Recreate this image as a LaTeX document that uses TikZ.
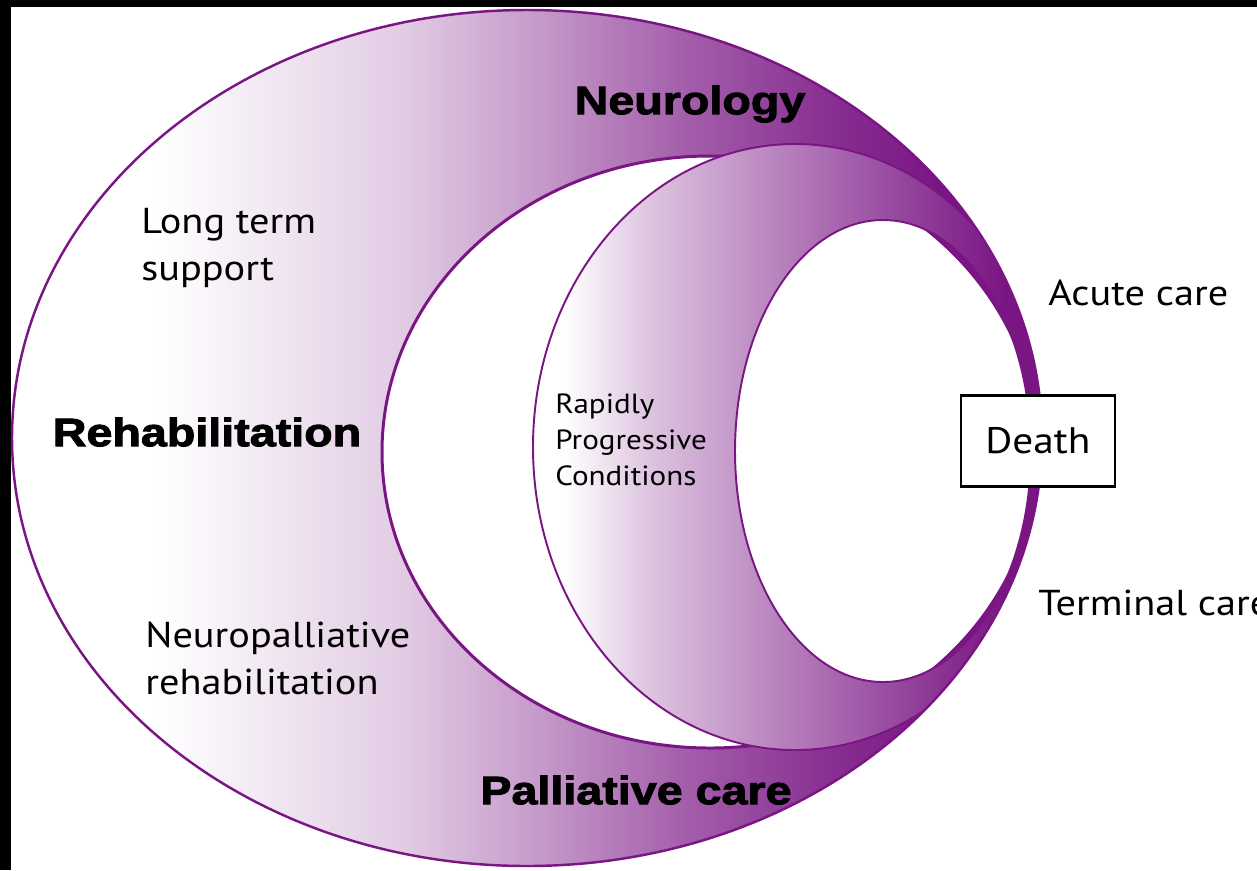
\documentclass[tikz,border=0pt]{standalone}
\usepackage{fontspec}
\setmainfont{PT Sans}[FakeStretch=1.12]
\newfontfamily\heavyfont[FakeBold=2.5, FakeStretch=1.18]{Liberation Sans Bold}
\usepackage{tikz}
\usetikzlibrary{positioning}

\definecolor{purp}{RGB}{122,22,132}
\pgfdeclarehorizontalshading{outershade}{100bp}{color(0bp)=(white); color(32bp)=(white); color(44bp)=(purp!22); color(51bp)=(purp!45); color(58bp)=(purp!70); color(65bp)=(purp!90); color(70bp)=(purp); color(100bp)=(purp)}
\pgfdeclarehorizontalshading{innershade}{100bp}{color(0bp)=(white); color(28bp)=(white); color(36bp)=(purp!25); color(46bp)=(purp!48); color(55bp)=(purp!68); color(64bp)=(purp!88); color(70bp)=(purp); color(100bp)=(purp)}

\begin{document}
\begin{tikzpicture}[x=0.02cm, y=-0.02cm,
  rim/.style={draw=purp, line width=1.1pt},
  big/.style={font=\heavyfont\fontsize{22.5}{26}\selectfont, inner sep=0pt},
  txt/.style={font=\fontsize{20.5}{26.7}\selectfont, align=left, anchor=west, inner sep=0pt},
  small/.style={font=\fontsize{15.8}{20.5}\selectfont, align=left, anchor=west, inner sep=0pt}]
\useasboundingbox (0,0) rectangle (1257,870);
\fill[white] (0,0) rectangle (1257,870);
\fill[black] (0,0) rectangle (1257,7);
\fill[black] (0,0) rectangle (11,870);

% outer band
\shade[shading=outershade, even odd rule] (527,438) ellipse [x radius=515, y radius=428]
  (710,452) ellipse [x radius=328, y radius=296];
\draw[rim, line width=1.7pt] (710,452) ellipse [x radius=328, y radius=296];

% inner band
\begin{scope}
\clip (527,438) ellipse [x radius=515, y radius=428];
\shade[shading=innershade, even odd rule] (795,447) ellipse [x radius=262, y radius=303]
  (883,451) ellipse [x radius=148, y radius=231];
\draw[rim] (795,447) ellipse [x radius=262, y radius=303];
\draw[rim] (883,451) ellipse [x radius=148, y radius=231];
\end{scope}
\draw[rim, line width=1.4pt] (527,438) ellipse [x radius=515, y radius=428];

\node[big] (N) at (690,104) {Neurology};
\node[big] (R) at (207,432) {Rehabilitation};
\node[big] (P) at (636,790) {Palliative care};
\node[txt] (LT) at (141,248) {Long term\\support};
\node[txt] (NR) at (145,658) {Neuropalliative\\rehabilitation};
\node[small] (RP) at (555,440) {Rapidly\\Progressive\\Conditions};
\node[txt] (AC) at (1048,293) {Acute care};
\node[txt] (TC) at (1038,603) {Terminal care};
\node[draw, fill=white, line width=1.5pt, minimum width=3.08cm, minimum height=1.82cm,
  font=\fontsize{21}{25}\selectfont] (D) at (1038,441) {Death};
\end{tikzpicture}
\end{document}
